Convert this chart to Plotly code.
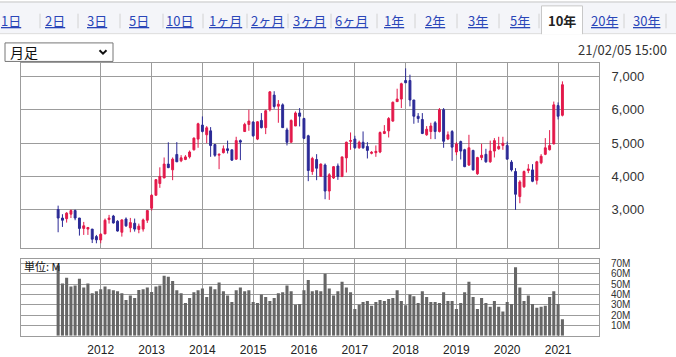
import plotly.graph_objects as go
import pandas as pd

# ---------------- data (monthly, Mar 2011 - Feb 2021) ----------------
months = pd.date_range("2011-03-01", periods=120, freq="MS")

opens = [3010, 2756, 2737, 2873, 2980, 2756, 2445, 2425, 2425, 2200,
         2100, 2280, 2710, 2815, 2660, 2330, 2727, 2464, 2600, 2415,
         2425, 2690, 3050, 3438, 3790, 3955, 4373, 4200, 4660, 4470,
         4510, 4590, 4800, 5120, 5540, 5250, 5367, 4958, 4640, 4714,
         4831, 4800, 4520, 5075, 5347, 5560, 5630, 5120, 5680, 5464,
         6000, 6438, 6107, 6146, 5396, 5026, 5513, 5903, 5737, 5220,
         4150, 4510, 4003, 4344, 3565, 3955, 4315, 4003, 4558, 5055,
         5123, 4860, 5026, 4900, 4695, 4714, 4734, 5289, 5367, 5660,
         6243, 6320, 6876, 6876, 6292, 5805, 5708, 5250, 5347, 5610,
         5347, 6000, 5123, 5347, 4734, 5045, 4802, 4344, 4782, 4081,
         4568, 4665, 4441, 4763, 4831, 4930, 4928, 4432, 4150, 3400,
         3692, 4180, 4198, 3886, 4412, 4665, 4802, 4977, 6126, 5834]
highs = [3127, 2870, 2932, 3010, 3010, 2760, 2640, 2480, 2430, 2250,
         2300, 2740, 2850, 2850, 2690, 2720, 2775, 2760, 2740, 2590,
         2740, 2980, 3470, 3925, 4275, 4570, 5025, 4570, 5030, 4640,
         4640, 4780, 5170, 5610, 5800, 5510, 5480, 4960, 4690, 4930,
         5075, 4800, 5190, 5110, 5610, 6000, 5660, 5660, 5900, 6000,
         6555, 6555, 6290, 6190, 5460, 5710, 5950, 6050, 5760, 5250,
         4590, 4670, 4390, 4390, 4100, 4315, 4390, 4590, 5045, 5320,
         5220, 5075, 5350, 5030, 4760, 4930, 5350, 5540, 5780, 6245,
         6630, 6810, 7240, 7050, 6292, 5900, 5900, 5510, 5610, 5660,
         6050, 6050, 5350, 5390, 5030, 5075, 4830, 5250, 4800, 4590,
         4980, 4830, 5075, 5150, 5190, 5190, 5045, 4490, 4250, 3890,
         4180, 4370, 4370, 4470, 4670, 5150, 5390, 6245, 6220, 6850]
lows = [2330, 2490, 2620, 2756, 2690, 2230, 2250, 2250, 2007, 2000,
        2000, 2280, 2590, 2590, 2350, 2200, 2490, 2330, 2350, 2300,
        2350, 2610, 2980, 3438, 3660, 3955, 4250, 3890, 4440, 4430,
        4490, 4540, 4780, 4860, 5320, 5000, 4590, 4590, 4220, 4690,
        4690, 4470, 4500, 4490, 5340, 5370, 5190, 5090, 5440, 5270,
        5950, 6030, 5610, 5464, 4930, 5026, 5513, 5500, 5120, 3860,
        4050, 3890, 4000, 3320, 3300, 3925, 3900, 3980, 4120, 4800,
        4830, 4830, 4830, 4540, 4665, 4590, 4700, 5270, 5170, 5640,
        6243, 6050, 6800, 6100, 5580, 5610, 5270, 5220, 5120, 5120,
        5320, 4860, 5090, 4470, 4640, 4510, 4280, 4315, 4180, 4050,
        4490, 4410, 4410, 4570, 4800, 4800, 4510, 4150, 3000, 3200,
        3660, 4100, 3830, 3760, 4370, 4640, 4780, 4960, 5710, 5800]
closes = [2756, 2690, 2903, 2980, 2756, 2445, 2523, 2474, 2123, 2104,
          2270, 2690, 2756, 2610, 2367, 2700, 2523, 2620, 2425, 2513,
          2700, 2980, 3438, 3906, 4003, 4373, 4266, 4520, 4440, 4560,
          4588, 4734, 5150, 5580, 5350, 5460, 4928, 4636, 4665, 4831,
          4782, 4490, 5075, 5030, 5560, 5660, 5220, 5640, 5464, 5970,
          6536, 6097, 6165, 5464, 5026, 5680, 5903, 5805, 5143, 4180,
          4540, 4247, 4373, 3565, 4052, 4295, 4003, 4588, 5026, 5075,
          4860, 5026, 4860, 4782, 4724, 4753, 5318, 5347, 5737, 6224,
          6320, 6779, 6808, 6292, 5805, 5737, 5289, 5416, 5513, 5347,
          6000, 5055, 5250, 4880, 4977, 4763, 4295, 4860, 4198, 4568,
          4636, 4441, 4763, 5075, 4900, 4997, 4520, 4198, 3468, 3838,
          4150, 4227, 3857, 4441, 4607, 4860, 4928, 6146, 5805, 6750]
volume_m = [68, 50.5, 56, 47.7, 48.6, 55, 46.7, 50.5, 41, 43,
            45, 47.7, 44.9, 44, 43, 41, 34.6, 39, 36.4, 44.2,
            45, 46.7, 42.4, 47.7, 48.6, 58, 57, 53, 44, 41,
            31.8, 36.4, 42, 44, 45.8, 37.4, 47.7, 44.9, 51.4, 43,
            39, 32.7, 44, 46.7, 43, 44, 32.7, 31.8, 40, 37.4,
            33.6, 36.4, 41, 42, 48.6, 43, 30, 30.8, 44, 54,
            43, 44, 43, 59.8, 45.8, 39, 43, 52.3, 46.7, 42,
            26, 30, 32.7, 33.6, 29, 32.7, 34.6, 33.6, 35.5, 36.4,
            44, 33.6, 29.6, 40, 38.3, 31.8, 43, 37.4, 32.7, 32.7,
            31.8, 42, 33.6, 33.6, 26, 31.8, 42, 52.3, 37.4, 26,
            36.4, 31.8, 28, 33.6, 28, 23.4, 32.7, 30.8, 66.3, 46.7,
            33.6, 39, 30.8, 27, 28, 29, 37.4, 43, 30.8, 15.9]

year_ticks = ["2012-01-01", "2013-01-01", "2014-01-01", "2015-01-01", "2016-01-01",
              "2017-01-01", "2018-01-01", "2019-01-01", "2020-01-01", "2021-01-01"]
year_labels = ["2012", "2013", "2014", "2015", "2016", "2017", "2018", "2019", "2020", "2021"]
price_ticks = [3000, 4000, 5000, 6000, 7000]
price_tick_labels = ["3,000", "4,000", "5,000", "6,000", "7,000"]
vol_ticks = [10, 20, 30, 40, 50, 60, 70]
vol_tick_labels = ["10M", "20M", "30M", "40M", "50M", "60M", "70M"]

tabs = ["1日", "2日", "3日", "5日", "10日", "1ヶ月", "2ヶ月", "3ヶ月", "6ヶ月",
        "1年", "2年", "3年", "5年", "10年", "20年", "30年"]
selected_tab = "10年"

# ---------------- styling / layout ----------------
W, H = 676, 357
L, R, T, B = 21, 77, 0, 0
RED = "#e3194a"
BLUE = "#2b2a96"
GRID = "#9c9c9c"
FONT = "Noto Sans CJK JP, Noto Sans, sans-serif"
NUMFONT = "Liberation Sans, Arial, sans-serif"


def px(x):
    return (x - L) / (W - L - R)


def py(y):
    return 1 - y / H


fig = go.Figure()
fig.add_trace(go.Candlestick(
    x=months, open=opens, high=highs, low=lows, close=closes,
    increasing=dict(line=dict(color=RED, width=1), fillcolor=RED),
    decreasing=dict(line=dict(color=BLUE, width=1), fillcolor=BLUE),
    whiskerwidth=0, xaxis="x", yaxis="y", showlegend=False, hoverinfo="skip"))
fig.add_trace(go.Bar(
    x=months, y=volume_m, marker=dict(color="#666666", line=dict(width=0)),
    width=22 * 86400000, xaxis="x2", yaxis="y2", showlegend=False, hoverinfo="skip"))

xrange = ["2010-06-07", "2021-10-22"]
common_x = dict(range=xrange, type="date", tickvals=year_ticks, ticktext=year_labels,
                showgrid=True, gridcolor=GRID, gridwidth=1, showline=True,
                mirror=True, linecolor=GRID, linewidth=1, zeroline=False,
                fixedrange=True)
fig.update_layout(
    width=W, height=H, margin=dict(l=L, r=R, t=T, b=B),
    paper_bgcolor="white", plot_bgcolor="white",
    font=dict(family=FONT, size=12, color="#333333"),
    showlegend=False,
    xaxis=dict(**common_x, anchor="y", showticklabels=False, ticks="",
               rangeslider=dict(visible=False)),
    xaxis2=dict(**common_x, anchor="y2", showticklabels=True,
                ticks="outside", ticklen=3, tickcolor="rgba(0,0,0,0)",
                tickfont=dict(size=12, color="#222222", family=NUMFONT)),
    yaxis=dict(domain=[py(253), py(63.3)], range=[1870, 7409], side="right",
               tickvals=price_ticks, ticktext=price_tick_labels,
               showgrid=True, gridcolor=GRID, gridwidth=1, showline=True, mirror=True,
               linecolor=GRID, zeroline=False, ticks="outside", ticklen=9,
               tickcolor="rgba(0,0,0,0)",
               tickfont=dict(size=13, color="#333333", family=NUMFONT),
               fixedrange=True),
    yaxis2=dict(domain=[py(343.5), py(264.3)], range=[0, 74.5], side="right",
                tickvals=vol_ticks, ticktext=vol_tick_labels,
                showgrid=True, gridcolor=GRID, gridwidth=1, showline=True, mirror=True,
                linecolor=GRID, zeroline=False, ticks="outside", ticklen=9,
                tickcolor="rgba(0,0,0,0)",
                tickfont=dict(size=10, color="#333333", family=NUMFONT),
                fixedrange=True),
)

shapes = []
annotations = []
# tab bar
shapes.append(dict(type="rect", xref="paper", yref="paper", x0=px(0), x1=px(W),
                   y0=py(33), y1=py(1), fillcolor="#f4f5f9", line=dict(width=0), layer="below"))
shapes.append(dict(type="line", xref="paper", yref="paper", x0=px(0), x1=px(W),
                   y0=py(1), y1=py(1), line=dict(color="#c4c4c4", width=1)))
shapes.append(dict(type="line", xref="paper", yref="paper", x0=px(0), x1=px(W),
                   y0=py(33.5), y1=py(33.5), line=dict(color="#dddddd", width=1)))
# selected tab
sx0, sx1, sy0, sy1 = px(541.5), px(582.5), py(5), py(34)
shapes.append(dict(type="path", xref="paper", yref="paper",
                   path=f"M {sx0} {sy1} L {sx0} {sy0} L {sx1} {sy0} L {sx1} {sy1}",
                   fillcolor="white", line=dict(color="#c8c8c8", width=1)))
# separators
for sx in [40, 78, 120, 163, 203, 247, 288, 331, 377, 415, 457, 499, 539, 624, 666]:
    shapes.append(dict(type="line", xref="paper", yref="paper", x0=px(sx), x1=px(sx),
                       y0=py(13), y1=py(28), line=dict(color="#d2d2d2", width=1)))

tab_centers = [11, 55, 97, 139, 179.5, 225.5, 267.5, 309, 351.5,
               393.5, 435, 478, 520, 561.5, 604, 646]
for name, cx in zip(tabs, tab_centers):
    if name == selected_tab:
        txt = f"<b>{name}</b>"
        col = "#222222"
    else:
        txt = f"<span style='text-decoration:underline'>{name}</span>"
        col = "#2a46b8"
    annotations.append(dict(text=txt, x=px(cx), y=py(20), xref="paper", yref="paper",
                            showarrow=False, xanchor="center", yanchor="middle",
                            font=dict(size=13, color=col, family=FONT)))

# dropdown
shapes.append(dict(type="rect", xref="paper", yref="paper", x0=px(5), x1=px(113),
                   y0=py(62), y1=py(43), fillcolor="white",
                   line=dict(color="#767676", width=1)))
shapes.append(dict(type="path", xref="paper", yref="paper",
                   path=f"M {px(99.5)} {py(50.5)} L {px(103)} {py(54)} L {px(106.5)} {py(50.5)}",
                   line=dict(color="#111111", width=2)))
annotations.append(dict(text="月足", x=px(8), y=py(52.5), xref="paper", yref="paper",
                        showarrow=False, xanchor="left", yanchor="middle",
                        font=dict(size=14, color="#111111", family=FONT)))
annotations.append(dict(text="21/02/05 15:00", x=px(669), y=py(50), xref="paper", yref="paper",
                        showarrow=False, xanchor="right", yanchor="middle",
                        font=dict(size=13, color="#333333", family=FONT)))
annotations.append(dict(text="単位: M", x=px(22), y=py(272), xref="paper", yref="paper",
                        showarrow=False, xanchor="left", yanchor="middle",
                        font=dict(size=11, color="#111111", family=FONT)))

fig.update_layout(shapes=shapes, annotations=annotations)

fig.write_html("out.html", config=dict(displayModeBar=False, staticPlot=True),
               post_script="document.body.style.margin='0px';")
